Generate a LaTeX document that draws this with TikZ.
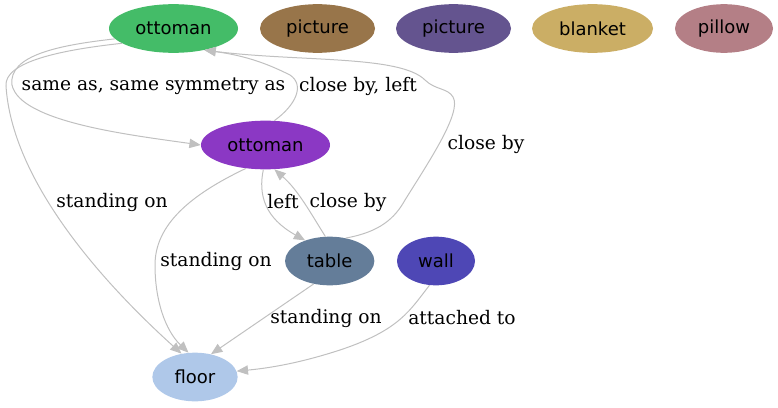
\documentclass[tikz,border=0pt]{standalone}
\usepackage{fontspec}
\setmainfont{DejaVu Serif}
\newfontfamily\nodefont{DejaVu Sans}
\usetikzlibrary{shapes.geometric,arrows.meta}
\definecolor{cOtA}{HTML}{44BC68}
\definecolor{cPicA}{HTML}{98754A}
\definecolor{cPicB}{HTML}{64548F}
\definecolor{cBlanket}{HTML}{CBAE65}
\definecolor{cPillow}{HTML}{B47F86}
\definecolor{cOtB}{HTML}{8B38C4}
\definecolor{cTable}{HTML}{647D99}
\definecolor{cWall}{HTML}{4E47B5}
\definecolor{cFloor}{HTML}{AFC8E9}
\definecolor{cEdge}{HTML}{C0C0C0}
\tikzset{
  obj/.style={ellipse, draw=none, inner sep=0pt, minimum height=36.5pt, font=\nodefont\fontsize{13.5}{16}\selectfont},
  rel/.style={draw=cEdge, line width=0.75pt, -{Triangle[length=8.5pt,width=7pt]}},
  lab/.style={font=\fontsize{14}{16}\selectfont, inner sep=0pt}
}
\begin{document}
\begin{tikzpicture}[x=0.75pt,y=-0.75pt]
\useasboundingbox (0,0) rectangle (778,407);
% nodes
\node[obj, fill=cOtA, minimum width=96.75pt] (ot1) at (173.5,28.5) {ottoman};
\node[obj, fill=cPicA, minimum width=86.25pt] (pic1) at (317.5,28.5) {picture};
\node[obj, fill=cPicB, minimum width=86.25pt] (pic2) at (453.5,28.5) {picture};
\node[obj, fill=cBlanket, minimum width=90.75pt] (blk) at (592.5,28.5) {blanket};
\node[obj, fill=cPillow, minimum width=73.5pt] (pil) at (724,28.5) {pillow};
\node[obj, fill=cOtB, minimum width=96.75pt] (ot2) at (265.5,145) {ottoman};
\node[obj, fill=cTable, minimum width=67pt] (tab) at (329.7,261) {table};
\node[obj, fill=cWall, minimum width=58.5pt] (wal) at (436,261) {wall};
\node[obj, fill=cFloor, minimum width=64pt] (flo) at (195,377) {floor};
% edges
\draw[rel] (ot1.190) .. controls (60,45) and (8,55) .. (12,85)
  .. controls (20,122) and (130,135) .. (ot2.west);
\draw[rel] (ot1.196) .. controls (60,50) and (4,62) .. (6,86)
  .. controls (12,180) and (100,280) .. (flo.120);
\draw[rel] (ot2.70) .. controls (296,105) and (305,85) .. (290,75)
  .. controls (270,65) and (248,56) .. (ot1.-35);
\draw[rel] (tab.55) .. controls (380,232) and (395,218) .. (405,200)
  .. controls (430,160) and (462,112) .. (453,97)
  .. controls (448,88) and (435,90) .. (425,80)
  .. controls (400,55) and (300,62) .. (ot1.-35);
\draw[rel] (ot2.-95) .. controls (258,195) and (265,218) .. (tab.140);
\draw[rel] (tab.100) .. controls (310,212) and (298,190) .. (ot2.-70);
\draw[rel] (ot2.-130) .. controls (190,195) and (155,225) .. (155,265)
  .. controls (155,300) and (165,330) .. (flo.105);
\draw[rel] (tab.-125) -- (flo.55);
\draw[rel] (wal.-105) .. controls (410,310) and (400,330) .. (340,350)
  .. controls (300,363) and (270,368) .. (flo.8);
% labels
\node[lab] (l1) at (153.5,86) {same as, same symmetry as};
\node[lab] (l2) at (358,86) {close by, left};
\node[lab] (l3) at (486,144) {close by};
\node[lab] (l4) at (112,202) {standing on};
\node[lab] (l5) at (216,261) {standing on};
\node[lab] (l6) at (283,202) {left};
\node[lab] (l7) at (348,202) {close by};
\node[lab] (l8) at (326,318) {standing on};
\node[lab] (l9) at (462,318) {attached to};
\end{tikzpicture}
\end{document}
